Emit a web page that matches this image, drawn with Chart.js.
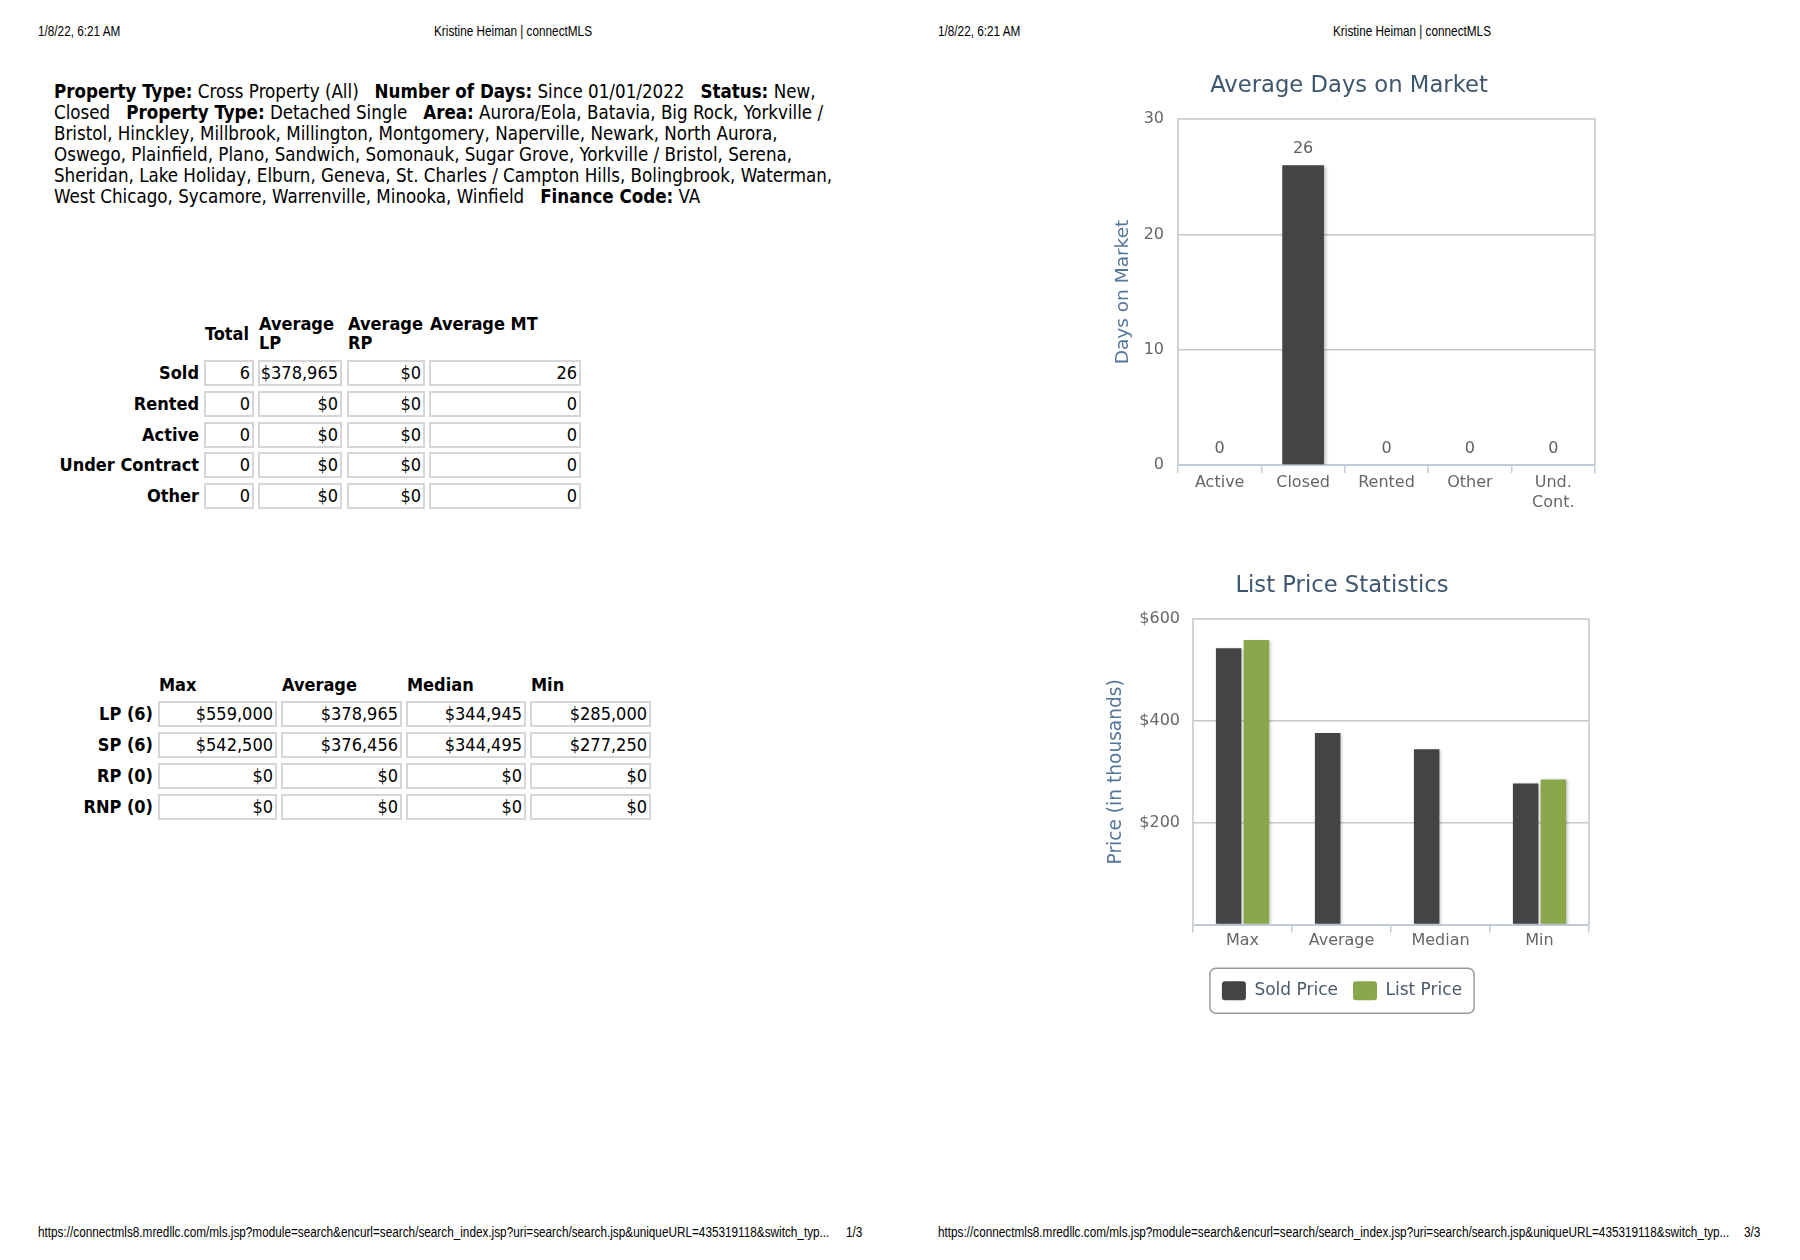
<!DOCTYPE html>
<html><head><meta charset="utf-8">
<script src="https://cdn.jsdelivr.net/npm/chart.js@4.4.1/dist/chart.umd.min.js"></script>
<style>
html,body{margin:0;padding:0;background:#fff;}
body{width:1800px;height:1260px;position:relative;overflow:hidden;font-family:"DejaVu Sans Condensed","DejaVu Sans",sans-serif;color:#000;}
.hdr{position:absolute;font-family:"Liberation Sans",Arial,sans-serif;font-size:14px;line-height:16px;color:#000;white-space:nowrap;transform:scaleX(0.84);transform-origin:0 50%;}
.hdrc{transform-origin:50% 50%;}
#crit{position:absolute;left:54px;top:81px;font-size:18.6px;line-height:21.1px;white-space:nowrap;}
.cell{position:absolute;box-sizing:border-box;border:2px solid #d6d6d6;height:26px;line-height:22px;text-align:right;padding-right:2px;font-size:18px;white-space:nowrap;}
.lab{position:absolute;font-weight:bold;text-align:right;font-size:18px;line-height:26px;white-space:nowrap;}
.th{position:absolute;font-weight:bold;font-size:18px;line-height:19px;white-space:nowrap;}
canvas{position:absolute;}
</style></head>
<body>
<div class="hdr" style="left:38px;top:23px;">1/8/22, 6:21 AM</div>
<div class="hdr hdrc" style="left:313px;top:23px;width:400px;text-align:center;">Kristine Heiman | connectMLS</div>
<div class="hdr" style="left:938px;top:23px;">1/8/22, 6:21 AM</div>
<div class="hdr hdrc" style="left:1212px;top:23px;width:400px;text-align:center;">Kristine Heiman | connectMLS</div>

<div id="crit">
<b>Property Type:</b> Cross Property (All)&nbsp;&nbsp; <b>Number of Days:</b> Since 01/01/2022&nbsp;&nbsp; <b>Status:</b> New,<br>
Closed&nbsp;&nbsp; <b>Property Type:</b> Detached Single&nbsp;&nbsp; <b>Area:</b> Aurora/Eola, Batavia, Big Rock, Yorkville /<br>
Bristol, Hinckley, Millbrook, Millington, Montgomery, Naperville, Newark, North Aurora,<br>
Oswego, Plainfield, Plano, Sandwich, Somonauk, Sugar Grove, Yorkville / Bristol, Serena,<br>
Sheridan, Lake Holiday, Elburn, Geneva, St. Charles / Campton Hills, Bolingbrook, Waterman,<br>
West Chicago, Sycamore, Warrenville, Minooka, Winfield&nbsp;&nbsp; <b>Finance Code:</b> VA
</div>

<div id="tables"></div>

<canvas id="c1" width="517" height="470" style="left:1103px;top:60px;width:517px;height:470px;"></canvas>
<canvas id="c2" width="509" height="480" style="left:1095px;top:550px;width:509px;height:480px;"></canvas>

<div class="hdr" style="left:38px;top:1224px;">https://connectmls8.mredllc.com/mls.jsp?module=search&amp;encurl=search/search_index.jsp?uri=search/search.jsp&amp;uniqueURL=435319118&amp;switch_typ...</div>
<div class="hdr" style="left:846px;top:1224px;">1/3</div>
<div class="hdr" style="left:938px;top:1224px;">https://connectmls8.mredllc.com/mls.jsp?module=search&amp;encurl=search/search_index.jsp?uri=search/search.jsp&amp;uniqueURL=435319118&amp;switch_typ...</div>
<div class="hdr" style="left:1744px;top:1224px;">3/3</div>

<script>
// ---- Chart data ----
const dayCategories = ['Active', 'Closed', 'Rented', 'Other', ['Und.', 'Cont.']];
const dayValues = [0, 26, 0, 0, 0];
const dayAxisMax = 30;
const dayTickStep = 10;

const priceCategories = ['Max', 'Average', 'Median', 'Min'];
const soldPrice = [542.5, 376.456, 344.495, 277.25];   // in thousands
const listPrice = [559, null, null, 285];              // in thousands
const priceAxisMax = 600;
const priceTickStep = 200;

// ---- Table text ----
const summaryHeads = ['Total', 'Average<br>LP', 'Average<br>RP', 'Average MT<br>&nbsp;'];
const summaryRows = ['Sold', 'Rented', 'Active', 'Under Contract', 'Other'];
const summaryVals = [
  ['6', '$378,965', '$0', '26'],
  ['0', '$0', '$0', '0'],
  ['0', '$0', '$0', '0'],
  ['0', '$0', '$0', '0'],
  ['0', '$0', '$0', '0']
];
const statHeads = ['Max', 'Average', 'Median', 'Min'];
const statRows = ['LP (6)', 'SP (6)', 'RP (0)', 'RNP (0)'];
const statVals = [
  ['$559,000', '$378,965', '$344,945', '$285,000'],
  ['$542,500', '$376,456', '$344,495', '$277,250'],
  ['$0', '$0', '$0', '$0'],
  ['$0', '$0', '$0', '$0']
];

(function buildTables(){
  const host = document.getElementById('tables');
  let h = '';
  const c1L = [204, 258, 347, 429], c1W = [50, 84, 78, 152];
  const r1T = [360, 391, 422, 452, 483];
  summaryHeads.forEach((t, i) => {
    h += `<div class="th" style="left:${c1L[i]+1}px;top:314px;height:38px;display:flex;align-items:center;">${t}</div>`;
  });
  summaryRows.forEach((r, j) => {
    h += `<div class="lab" style="left:0;width:199px;top:${r1T[j]}px;">${r}</div>`;
    summaryVals[j].forEach((v, i) => {
      h += `<div class="cell" style="left:${c1L[i]}px;width:${c1W[i]}px;top:${r1T[j]}px;">${v}</div>`;
    });
  });
  const c2L = [158, 281, 406, 530], c2W = [119, 121, 120, 121];
  const r2T = [701, 732, 763, 794];
  statHeads.forEach((t, i) => {
    h += `<div class="th" style="left:${c2L[i]+1}px;top:675px;">${t}</div>`;
  });
  statRows.forEach((r, j) => {
    h += `<div class="lab" style="left:0;width:153px;top:${r2T[j]}px;">${r}</div>`;
    statVals[j].forEach((v, i) => {
      h += `<div class="cell" style="left:${c2L[i]}px;width:${c2W[i]}px;top:${r2T[j]}px;">${v}</div>`;
    });
  });
  host.innerHTML = h;
})();

// ---- Chart styling helpers ----
const FONT = '"DejaVu Sans", sans-serif';
const TITLE_COLOR = '#3e576f';
const AXIS_TITLE_COLOR = '#56769a';
const TICK_COLOR = '#666666';
const DARK = '#444444';
const GREEN = '#88a84b';

const framePlugin = {
  id: 'frame',
  beforeDatasetsDraw(chart) {
    const {ctx, chartArea: a} = chart;
    ctx.save();
    ctx.strokeStyle = '#d0d3d7';
    ctx.lineWidth = 2;
    ctx.beginPath();
    ctx.moveTo(a.left, a.bottom);
    ctx.lineTo(a.left, a.top);
    ctx.lineTo(a.right, a.top);
    ctx.lineTo(a.right, a.bottom);
    ctx.stroke();
    ctx.restore();
  }
};
const shadowPlugin = {
  id: 'barShadow',
  beforeDatasetsDraw(chart) {
    const c = chart.ctx;
    c.save();
    c.shadowColor = 'rgba(0,0,0,0.25)';
    c.shadowOffsetX = 2;
    c.shadowOffsetY = 1;
    c.shadowBlur = 3;
  },
  afterDatasetsDraw(chart) { chart.ctx.restore(); }
};
const valueLabelPlugin = {
  id: 'valueLabels',
  afterDatasetsDraw(chart) {
    const {ctx} = chart;
    ctx.save();
    ctx.font = '16px ' + FONT;
    ctx.fillStyle = '#606060';
    ctx.textAlign = 'center';
    ctx.textBaseline = 'middle';
    chart.data.datasets.forEach((ds, di) => {
      chart.getDatasetMeta(di).data.forEach((el, i) => {
        const v = ds.data[i];
        if (v === null || v === undefined) return;
        ctx.fillText(String(v), el.x, el.y - 16.5);
      });
    });
    ctx.restore();
  }
};
const legendBoxPlugin = {
  id: 'legendBox',
  afterDraw(chart) {
    const hb = chart.legend && chart.legend.legendHitBoxes;
    if (!hb || !hb.length) return;
    const l = Math.min(...hb.map(b => b.left));
    const r = Math.max(...hb.map(b => b.left + b.width));
    const t = Math.min(...hb.map(b => b.top));
    const bt = Math.max(...hb.map(b => b.top + b.height));
    const cy = (t + bt) / 2;
    const {ctx} = chart;
    ctx.save();
    ctx.strokeStyle = '#9a9a9a';
    ctx.lineWidth = 1.5;
    ctx.beginPath();
    ctx.roundRect(l - 12, cy - 22.5, (r - l) + 24, 45, 6);
    ctx.stroke();
    ctx.restore();
  }
};

function xAxis(height, pad) {
  return {
    offset: true,
    grid: {offset: true, drawOnChartArea: false, drawTicks: true, tickLength: 8, color: '#c0ccd8', lineWidth: 1.5},
    border: {display: true, color: '#c0ccd8', width: 2},
    ticks: {color: TICK_COLOR, font: {family: FONT, size: 16, lineHeight: 1.3}, padding: pad, maxRotation: 0, autoSkip: false},
    afterFit(s) { s.height = height; }
  };
}

// ---- Chart 1: Average Days on Market ----
new Chart(document.getElementById('c1'), {
  type: 'bar',
  data: {
    labels: dayCategories,
    datasets: [{
      label: 'Days on Market',
      data: dayValues,
      backgroundColor: DARK,
      borderWidth: 0,
      barPercentage: 0.5,
      categoryPercentage: 1
    }]
  },
  options: {
    responsive: false,
    animation: false,
    layout: {padding: {left: 0, right: 25, top: 0, bottom: 0}},
    plugins: {
      legend: {display: false},
      tooltip: {enabled: false},
      title: {
        display: true, text: 'Average Days on Market', color: TITLE_COLOR,
        font: {family: FONT, size: 22.7, weight: 'normal', lineHeight: 1.2},
        padding: {top: 12.9, bottom: 18.9}
      }
    },
    scales: {
      x: xAxis(65, -1),
      y: {
        min: 0, max: dayAxisMax,
        ticks: {stepSize: dayTickStep, color: TICK_COLOR, font: {family: FONT, size: 16}, padding: 14},
        grid: {color: '#c8c8c8', lineWidth: 1.5, drawTicks: false},
        border: {display: false},
        title: {display: true, text: 'Days on Market', color: AXIS_TITLE_COLOR,
                font: {family: FONT, size: 18.5, weight: 'normal', lineHeight: 1.2}, padding: {top: 8.9, bottom: 0}},
        afterFit(s) { s.width = 75; }
      }
    }
  },
  plugins: [framePlugin, shadowPlugin, valueLabelPlugin]
});

// ---- Chart 2: List Price Statistics ----
new Chart(document.getElementById('c2'), {
  type: 'bar',
  data: {
    labels: priceCategories,
    datasets: [
      {label: 'Sold Price', data: soldPrice, backgroundColor: DARK, borderWidth: 0,
       barPercentage: 0.92, categoryPercentage: 0.56},
      {label: 'List Price', data: listPrice, backgroundColor: GREEN, borderWidth: 0,
       barPercentage: 0.92, categoryPercentage: 0.56}
    ]
  },
  options: {
    responsive: false,
    animation: false,
    layout: {padding: {left: 0, right: 15, top: 0, bottom: 19.7}},
    plugins: {
      tooltip: {enabled: false},
      title: {
        display: true, text: 'List Price Statistics', color: TITLE_COLOR,
        font: {family: FONT, size: 22.7, weight: 'normal', lineHeight: 1.2},
        padding: {top: 22.9, bottom: 18.9}
      },
      legend: {
        display: true, position: 'bottom',
        labels: {
          color: '#4a5a6c', boxWidth: 24, boxHeight: 19, padding: 15,
          useBorderRadius: true, borderRadius: 3,
          font: {family: FONT, size: 17}
        }
      }
    },
    scales: {
      x: xAxis(41.7, -2),
      y: {
        min: 0, max: priceAxisMax,
        ticks: {stepSize: priceTickStep, color: TICK_COLOR, font: {family: FONT, size: 16}, padding: 13,
                callback: v => v === 0 ? '' : '$' + v},
        grid: {color: '#c8c8c8', lineWidth: 1.5, drawTicks: false},
        border: {display: false},
        title: {display: true, text: 'Price (in thousands)', color: AXIS_TITLE_COLOR,
                font: {family: FONT, size: 18.6, weight: 'normal', lineHeight: 1.2}, padding: {top: 9.8, bottom: 0}},
        afterFit(s) { s.width = 98; }
      }
    }
  },
  plugins: [framePlugin, shadowPlugin, legendBoxPlugin]
});
</script>
</body></html>
